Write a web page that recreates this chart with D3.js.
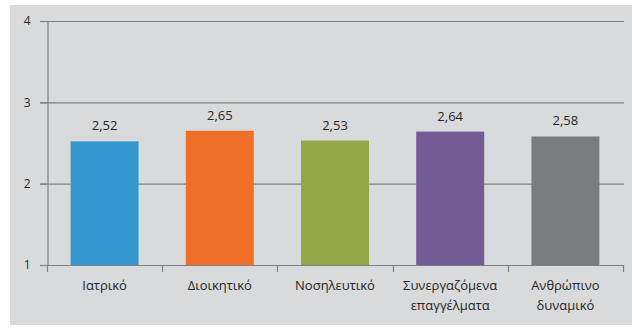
<!DOCTYPE html>
<html>
<head>
<meta charset="utf-8">
<script src="https://cdn.jsdelivr.net/npm/d3@7"></script>
<style>
  html, body { margin: 0; padding: 0; background: #ffffff; }
  svg { display: block; }
  text { font-family: "Open Sans", "DejaVu Sans", sans-serif; }
</style>
</head>
<body>
<svg id="chart" width="632" height="329"></svg>
<script>
// Mean scores per staff group
const categories = ["Ιατρικό", "Διοικητικό", "Νοσηλευτικό", "Συνεργαζόμενα επαγγέλματα", "Ανθρώπινο δυναμικό"];
const labelLines = [["Ιατρικό"], ["Διοικητικό"], ["Νοσηλευτικό"], ["Συνεργαζόμενα", "επαγγέλματα"], ["Ανθρώπινο", "δυναμικό"]];
const values = [2.52, 2.65, 2.53, 2.64, 2.58];
const colors = ["#3497cf", "#ef6f28", "#93a747", "#735b96", "#7a7b7d"];
const yTicks = [1, 2, 3, 4];

const svg = d3.select("#chart");
const W = 632, H = 329;

// panel background
svg.append("rect").attr("x", 10).attr("y", 5).attr("width", W - 10).attr("height", 320).attr("fill", "#d9dadb");

const x0 = 47, x1 = 623, yTop = 21, yBot = 265;
const x = d3.scaleBand().domain(categories).range([x0, x1]).paddingInner(0.41).paddingOuter(0.205);
const y = d3.scaleLinear().domain([1, 4]).range([yBot, yTop]);

// horizontal gridlines
svg.append("g").selectAll("line").data(yTicks.filter(d => d > 1)).join("line")
  .attr("x1", 40).attr("x2", x1 + 1)
  .attr("y1", d => y(d) + 0.5).attr("y2", d => y(d) + 0.5)
  .attr("stroke", "#808080").attr("stroke-width", 1.2);

// bars
svg.append("g").selectAll("rect").data(values).join("rect")
  .attr("x", (d, i) => x(categories[i]))
  .attr("width", x.bandwidth())
  .attr("y", d => y(d))
  .attr("height", d => y(1) - y(d))
  .attr("fill", (d, i) => colors[i]);

// value labels
svg.append("g").selectAll("text").data(values).join("text")
  .attr("x", (d, i) => x(categories[i]) + x.bandwidth() / 2)
  .attr("y", d => y(d) - 11)
  .attr("text-anchor", "middle")
  .attr("font-size", 13)
  .attr("fill", "#262626")
  .text(d => d3.format(".2f")(d).replace(".", ","));

// y axis
const yAxis = d3.axisLeft(y).tickValues(yTicks).tickSize(7).tickPadding(10).tickFormat(d3.format("d"));
const gy = svg.append("g").attr("transform", `translate(${x0 + 0.5},0)`).call(yAxis);
gy.select(".domain").attr("stroke", "#808080").attr("stroke-width", 1.2);
gy.selectAll(".tick line").attr("stroke", "#808080").attr("stroke-width", 1.2);
gy.selectAll(".tick text").attr("font-size", 12).attr("fill", "#262626")
  .attr("font-family", "\"Open Sans\", \"DejaVu Sans\", sans-serif");

// x axis baseline with category boundary ticks
const bounds = categories.map(c => x(c) - x.step() * x.paddingInner() / 2);
bounds[0] = x0;
bounds.push(x1);
svg.append("line").attr("x1", 40).attr("x2", x1 + 1).attr("y1", yBot + 0.5).attr("y2", yBot + 0.5)
  .attr("stroke", "#808080").attr("stroke-width", 1.2);
svg.append("g").selectAll("line").data(bounds).join("line")
  .attr("x1", d => Math.round(d) + 0.5).attr("x2", d => Math.round(d) + 0.5)
  .attr("y1", yBot).attr("y2", yBot + 7)
  .attr("stroke", "#808080").attr("stroke-width", 1.2);

// category labels
const lab = svg.append("g").selectAll("text").data(categories).join("text")
  .attr("x", d => x(d) + x.bandwidth() / 2)
  .attr("y", 290)
  .attr("text-anchor", "middle")
  .attr("font-size", 13)
  .attr("fill", "#262626");
lab.selectAll("tspan").data((d, i) => labelLines[i]).join("tspan")
  .attr("x", function() { return this.parentNode.getAttribute("x"); })
  .attr("dy", (d, j) => j === 0 ? 0 : 20)
  .text(d => d);
</script>
</body>
</html>
